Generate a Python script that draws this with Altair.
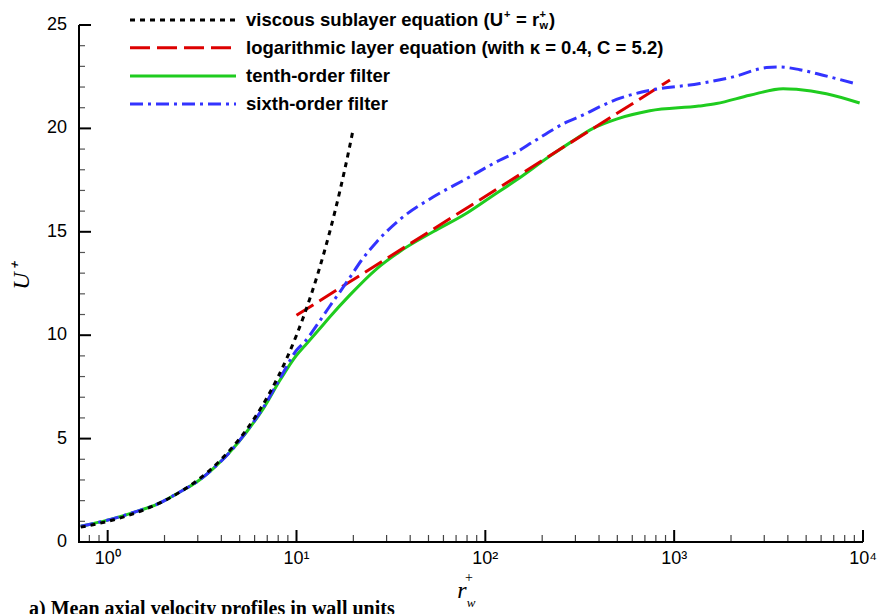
import altair as alt
import pandas as pd

# ---------------- data ----------------
visc_r = [0.72, 0.8, 1, 1.25, 1.5, 2, 2.5, 3, 4, 5, 6, 7, 8, 9, 10, 11, 12, 13, 14, 15, 16, 17, 18, 19, 20]
visc_u = [0.72, 0.8, 1, 1.25, 1.5, 2, 2.5, 3, 4, 5, 6, 7, 8, 9, 10, 11, 12, 13, 14, 15, 16, 17, 18, 19, 20]

log_r = [10, 950]
log_u = [10.96, 22.34]

tenth_r = [0.72, 0.81, 1.07, 1.48, 1.82, 2.41, 2.96, 3.62, 4.44, 5.44, 6.67, 8.17, 10, 11.1, 13.3, 15,
           19.2, 26.5, 35.3, 52.9, 79.5, 105.6, 146, 219, 280, 372, 495, 743, 1350, 1675, 2512, 3773,
           4440, 6397, 9600]
tenth_u = [0.76, 0.86, 1.13, 1.53, 1.82, 2.42, 2.90, 3.55, 4.35, 5.32, 6.45, 7.82, 9.03, 9.5, 10.32, 10.88,
           11.95, 13.2, 14.05, 15.0, 15.9, 16.65, 17.5, 18.65, 19.3, 20.0, 20.45, 20.85, 21.08, 21.2, 21.6, 21.92,
           21.89, 21.68, 21.23]

sixth_r = [0.72, 0.81, 1.07, 1.48, 1.82, 2.41, 2.96, 3.62, 4.44, 5.44, 6.67, 8.17, 10, 11.1, 13.3, 15,
           17, 19.2, 22, 26.5, 35.3, 52.9, 79.5, 119, 146, 179, 269, 330, 404, 495, 743, 1368, 2050, 3080,
           3620, 4620, 6140, 9080]
sixth_u = [0.76, 0.86, 1.13, 1.53, 1.82, 2.42, 2.90, 3.55, 4.35, 5.35, 6.5, 7.9, 9.27, 9.7, 10.7, 11.4,
           12.1, 12.8, 13.6, 14.5, 15.6, 16.68, 17.57, 18.46, 18.85, 19.35, 20.3, 20.65, 21.05, 21.4, 21.84, 22.17,
           22.49, 22.94, 22.97, 22.84, 22.57, 22.17]

x_major = [1, 10, 100, 1000, 10000]
x_labels = ["10\u2070", "10\u00b9", "10\u00b2", "10\u00b3", "10\u2074"]
x_minor = [0.8, 0.9] + [m * d for d in (1, 10, 100, 1000) for m in range(2, 10)]
y_major = [0, 5, 10, 15, 20, 25]
y_labels = ["0", "5", "10", "15", "20", "25"]
y_minor = [v for v in range(0, 26) if v % 5 != 0]

legend_labels = ["viscous sublayer equation (U",
                 "logarithmic layer equation (with \u03ba = 0.4, C = 5.2)",
                 "tenth-order filter",
                 "sixth-order filter"]
caption = "a) Mean axial velocity profiles in wall units"

# ---------------- layout ----------------
W, H = 784, 517
L, T = 79, 25
SANS = "Liberation Sans"
SERIF = "Liberation Serif"
XMIN, XMAX, YMAX = 0.705, 10000, 25

xscale = alt.Scale(type="log", domain=[XMIN, XMAX], nice=False)
yscale = alt.Scale(domain=[0, YMAX], nice=False)

# axes are drawn by hand below (inward ticks), so the encodings carry no axis
XE = alt.X("r:Q", scale=xscale, axis=None)
YE = alt.Y("u:Q", scale=yscale, axis=None)


def series(rs, us, color, dash, width=3):
    df = pd.DataFrame({"r": rs, "u": us})
    kw = dict(color=color, strokeWidth=width, interpolate="monotone")
    if dash:
        kw["strokeDash"] = dash
    return alt.Chart(df).mark_line(**kw).encode(x=XE, y=YE)


c_black, c_red, c_green, c_blue = "#000000", "#dd0000", "#1fcc1f", "#3333ff"
d_black, d_red, d_green, d_blue = [5, 5], [20, 7], None, [13, 5, 3, 5]

layers = [
    series(tenth_r, tenth_u, c_green, d_green),
    series(log_r, log_u, c_red, d_red),
    series(sixth_r, sixth_u, c_blue, d_blue),
    series(visc_r, visc_u, c_black, d_black),
]


# inward ticks drawn as short segments: two points per tick (on the axis, and one tick length inside)
def xtick_layer(vals, px, color, width):
    df = pd.DataFrame({"r": vals + vals, "k": list(range(len(vals))) * 2,
                       "e": [0] * len(vals) + [1] * len(vals)})
    return (alt.Chart(df)
            .transform_calculate(u=f"datum.e * {px} * {YMAX} / {H}")
            .mark_line(color=color, strokeWidth=width)
            .encode(x=XE, y=YE, detail="k:N", order="e:Q"))


def ytick_layer(vals, px, color, width):
    df = pd.DataFrame({"u": vals + vals, "k": list(range(len(vals))) * 2,
                       "e": [0] * len(vals) + [1] * len(vals)})
    return (alt.Chart(df)
            .transform_calculate(r=f"{XMIN} * pow(10, datum.e * {px} * log({XMAX}/{XMIN}) / log(10) / {W})")
            .mark_line(color=color, strokeWidth=width)
            .encode(x=XE, y=YE, detail="k:N", order="e:Q"))


layers += [xtick_layer(x_major, 12, "black", 2), xtick_layer(x_minor, 7, "#444444", 1.2),
           ytick_layer(y_major, 12, "black", 2), ytick_layer(y_minor, 6, "#555555", 1.2)]

# axis lines (left and bottom only)
layers.append(alt.Chart(pd.DataFrame({"k": [0]})).mark_rule(color="black", strokeWidth=2).encode(
    x=alt.value(-1), x2=alt.value(W), y=alt.value(H)))
layers.append(alt.Chart(pd.DataFrame({"k": [0]})).mark_rule(color="black", strokeWidth=2).encode(
    x=alt.value(0), y=alt.value(0), y2=alt.value(H + 1)))

# tick labels
layers.append(alt.Chart(pd.DataFrame({"r": x_major, "lab": x_labels})).mark_text(
    font=SANS, fontSize=18, color="black", align="center", baseline="top").encode(
    x=XE, y=alt.value(H + 8), text="lab:N"))
layers.append(alt.Chart(pd.DataFrame({"u": y_major, "lab": y_labels})).mark_text(
    font=SANS, fontSize=18, color="black", align="right", baseline="middle").encode(
    y=YE, x=alt.value(-12), text="lab:N"))


def text(t, x, y, size, font=SANS, weight="normal", style="normal", align="left",
         baseline="middle", angle=0):
    kw = dict(fontSize=size, font=font, fontWeight=weight, fontStyle=style, align=align,
              baseline=baseline, color="black")
    if angle:
        kw["angle"] = angle
    return alt.Chart(pd.DataFrame({"t": [t]})).mark_text(**kw).encode(
        text="t:N", x=alt.value(x - L), y=alt.value(y - T))


# legend (page coordinates, converted inside helpers)
leg_y = [20, 47.7, 76, 104]
leg_style = [(c_black, d_black), (c_red, d_red), (c_green, d_green), (c_blue, d_blue)]
for (col, dash), yy, lab in zip(leg_style, leg_y, legend_labels):
    kw = dict(color=col, strokeWidth=3)
    if dash:
        kw["strokeDash"] = dash
    layers.append(alt.Chart(pd.DataFrame({"k": [0]})).mark_rule(**kw).encode(
        x=alt.value(130 - L), x2=alt.value(236 - L), y=alt.value(yy - T)))
    layers.append(text(lab, 246, yy, 18.5, weight="bold"))

# pieces of "(U+ = r+w)"
layers.append(text("+", 504, 15, 11, weight="bold"))
layers.append(text("= r", 516, 20, 18.5, weight="bold"))
layers.append(text("+", 539.5, 15, 11, weight="bold"))
layers.append(text("w", 539.5, 26, 11, weight="bold"))
layers.append(text(")", 549, 20, 18.5, weight="bold"))

# axis titles
layers.append(text("U\u207a", 22, 277, 24, font=SERIF, style="italic", align="center", angle=270))
layers.append(text("r", 462, 598, 24, font=SERIF, style="italic", align="center", baseline="alphabetic"))
layers.append(text("+", 469, 578, 14, font=SERIF, align="center"))
layers.append(text("w", 471, 607, 13, font=SERIF, style="italic", align="center", baseline="alphabetic"))

# caption (cut by the page bottom, as in the reference)
layers.append(text(caption, 29, 615, 20, font=SERIF, weight="bold", baseline="alphabetic"))

chart = alt.layer(*layers).properties(
    width=W, height=H,
    padding={"left": L, "top": T, "right": 877 - L - W, "bottom": 614 - T - H},
    autosize=alt.AutoSizeParams(type="none"),
).configure_view(stroke=None)

chart.save("out.html", embed_options={"renderer": "svg", "actions": False})
